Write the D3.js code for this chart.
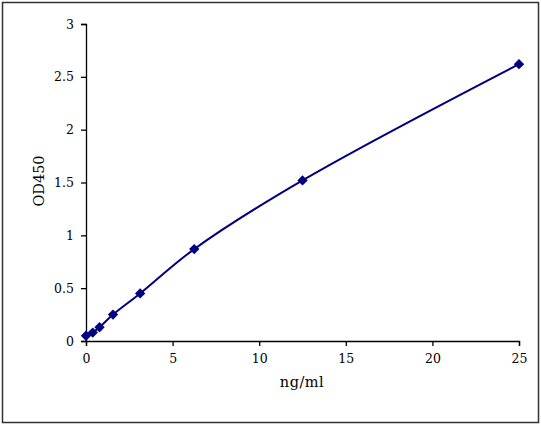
<!DOCTYPE html>
<html>
<head>
<meta charset="utf-8">
<script src="https://cdn.jsdelivr.net/npm/d3@7"></script>
<style>
  body { margin: 0; background: #fff; }
</style>
</head>
<body>
<svg id="chart" width="541" height="425"></svg>
<script>
// standard curve, concentration vs OD
var conc = [0, 0.39, 0.78, 1.56, 3.125, 6.25, 12.5, 25];
var od = [0.05, 0.08, 0.13, 0.25, 0.45, 0.87, 1.52, 2.62];
var xTicks = [0, 5, 10, 15, 20, 25];
var yTicks = [0, 0.5, 1, 1.5, 2, 2.5, 3];

var FONT = '"DejaVu Serif", "Liberation Serif", serif';
var svg = d3.select('#chart');

// outer frame
svg.append('rect')
    .attr('x', 2.5).attr('y', 2.5)
    .attr('width', 536).attr('height', 420)
    .attr('fill', 'none')
    .attr('stroke', '#333')
    .attr('stroke-width', 1.5);

var x = d3.scaleLinear().domain([0, 25]).range([86, 519]);
var y = d3.scaleLinear().domain([0, 3]).range([341, 24]);
var fmt = d3.format('~g');

var xAxis = svg.append('g')
    .attr('transform', 'translate(0,341)')
    .call(d3.axisBottom(x).tickValues(xTicks).tickFormat(fmt).tickSize(5).tickPadding(8));
var yAxis = svg.append('g')
    .attr('transform', 'translate(86,0)')
    .call(d3.axisLeft(y).tickValues(yTicks).tickFormat(fmt).tickSize(5).tickPadding(7));

[xAxis, yAxis].forEach(function (g) {
    g.attr('font-family', FONT).attr('font-size', 12.5);
    g.selectAll('text').attr('fill', '#000').attr('font-weight', 300);
    g.selectAll('path, line').attr('stroke', '#000').attr('stroke-width', 1.3);
});

// axis titles
svg.append('text')
    .attr('x', 302).attr('y', 387)
    .attr('text-anchor', 'middle')
    .attr('font-family', FONT).attr('font-size', 14.5)
    .attr('letter-spacing', 0.5)
    .text('ng/ml');
svg.append('text')
    .attr('transform', 'translate(44,181) rotate(-90)')
    .attr('text-anchor', 'middle')
    .attr('font-family', FONT).attr('font-size', 14.5)
    .text('OD450');

var pts = conc.map(function (c, i) { return [c, od[i]]; });

var line = d3.line()
    .x(function (d) { return x(d[0]); })
    .y(function (d) { return y(d[1]); })
    .curve(d3.curveCatmullRom.alpha(0.5));

svg.append('path')
    .attr('d', line(pts))
    .attr('fill', 'none')
    .attr('stroke', '#000080')
    .attr('stroke-width', 2);

var diamond = d3.symbol().type(d3.symbolDiamond2).size(68);
svg.selectAll('.pt')
    .data(pts)
    .enter().append('path')
    .attr('class', 'pt')
    .attr('d', diamond)
    .attr('transform', function (d) { return 'translate(' + x(d[0]) + ',' + y(d[1]) + ')'; })
    .attr('fill', '#000080');
</script>
</body>
</html>
